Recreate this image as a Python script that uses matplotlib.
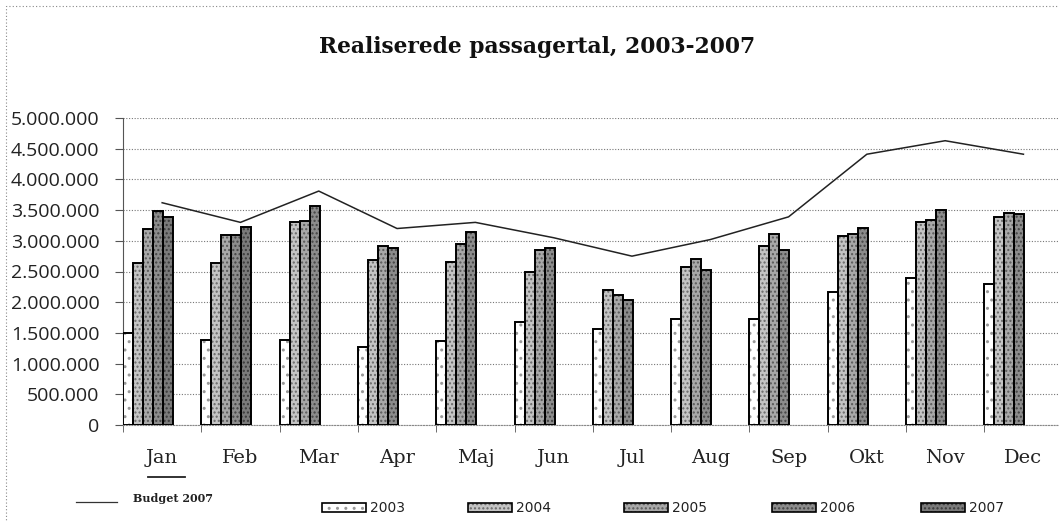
import matplotlib

matplotlib.use("Agg")
import matplotlib.pyplot as plt
from matplotlib.lines import Line2D
from matplotlib.patches import Rectangle
import numpy as np

months = ["Jan", "Feb", "Mar", "Apr", "Maj", "Jun",
          "Jul", "Aug", "Sep", "Okt", "Nov", "Dec"]
years = ["2003", "2004", "2005", "2006", "2007"]

# passengers per month, millions (2007 only known for Jan/Feb)
p2003 = [1.50, 1.38, 1.38, 1.27, 1.36, 1.67, 1.56, 1.73, 1.72, 2.17, 2.40, 2.30]
p2004 = [2.64, 2.64, 3.30, 2.69, 2.66, 2.50, 2.20, 2.58, 2.92, 3.08, 3.30, 3.38]
p2005 = [3.19, 3.10, 3.33, 2.92, 2.94, 2.85, 2.11, 2.70, 3.11, 3.11, 3.34, 3.46]
p2006 = [3.49, 3.10, 3.56, 2.88, 3.14, 2.89, 2.04, 2.52, 2.85, 3.21, 3.50, 3.44]
p2007 = [3.39, 3.23]
budget2007 = [3.62, 3.30, 3.81, 3.20, 3.30, 3.05, 2.75, 3.02, 3.39, 4.41, 4.63, 4.41]

series = [p2003, p2004, p2005, p2006, p2007]
faces = ["#ffffff", "#c4c4c4", "#a8a8a8", "#8c8c8c", "#7a7a7a"]
hatch_cols = ["#999999", "#6a6a6a", "#5a5a5a", "#444444", "#3a3a3a"]
hatches = ["..", "....", "....", "....", "...."]

W, H = 1059, 522
fig = plt.figure(figsize=(W / 100, H / 100), dpi=100)
ax = fig.add_axes([123 / W, (H - 425) / H, (W - 123) / W, 307 / H])

bw = 0.128
for j, vals in enumerate(series):
    x = np.arange(len(vals)) + j * bw
    v = np.array(vals) * 1e6
    ax.bar(x, v, width=bw, align="edge", color=faces[j], hatch=hatches[j],
           edgecolor=hatch_cols[j], linewidth=0, zorder=3)
    ax.bar(x, v, width=bw, align="edge", fill=False, edgecolor="black",
           linewidth=1.4, zorder=4)

xc = np.arange(len(months)) + 0.5
ax.plot(xc, np.array(budget2007) * 1e6, color="#222222", linewidth=1.1, zorder=5)

ax.set_xlim(0, (W - 123) / 78.3)
ax.set_ylim(0, 5e6)
yt = np.arange(0, 5.01e6, 5e5)
ax.set_yticks(yt)
ax.set_yticklabels(["0" if t == 0 else f"{int(t):,}".replace(",", ".") for t in yt],
                   fontsize=14, family="Open Sans", color="#222222")
ax.yaxis.grid(True, linestyle=(0, (1, 1.5)), color="#777777", linewidth=0.8, zorder=0)

ax.set_xticks(xc)
ax.set_xticklabels(months, fontsize=14, family="DejaVu Serif", color="#222222")
ax.set_xticks(np.arange(len(months)), minor=True)
ax.tick_params(axis="x", which="major", length=0, pad=17)
ax.tick_params(axis="x", which="minor", length=5, color="#555555")
ax.tick_params(axis="y", length=6, color="#555555", pad=11)

for s in ["top", "right"]:
    ax.spines[s].set_visible(False)
ax.spines["left"].set_color("#555555")
ax.spines["bottom"].set_color("#888888")
ax.spines["bottom"].set_linestyle((0, (1, 1.5)))

fig.text(537 / W, 1 - 47 / H, "Realiserede passagertal, 2003-2007",
         ha="center", va="center", fontsize=15.7, fontweight="bold",
         family="DejaVu Serif", color="#111111")

# underline mark under Jan
fig.add_artist(Line2D([148 / W, 185 / W], [1 - 477 / H, 1 - 477 / H],
                      color="#222222", linewidth=1.3))

# legend: budget line
fig.add_artist(Line2D([76 / W, 117 / W], [1 - 502 / H, 1 - 502 / H],
                      color="#333333", linewidth=0.9))
fig.text(133 / W, 1 - 499 / H, "Budget 2007", fontsize=8, fontweight="bold",
         family="DejaVu Serif", va="center", color="#222222")

# legend: years
leg_x = [322, 468, 624, 772, 921]
for j, yr in enumerate(years):
    x0 = leg_x[j] / W
    y0 = 1 - 512 / H
    fig.add_artist(Rectangle((x0, y0), 44 / W, 9 / H, facecolor=faces[j],
                             hatch=hatches[j], edgecolor=hatch_cols[j],
                             linewidth=0, transform=fig.transFigure))
    fig.add_artist(Rectangle((x0, y0), 44 / W, 9 / H, fill=False,
                             edgecolor="black", linewidth=1.2,
                             transform=fig.transFigure))
    fig.text((leg_x[j] + 48) / W, 1 - 508 / H, yr, fontsize=10,
             family="DejaVu Sans", va="center", color="#222222")

# dotted frame around chart
fig.add_artist(Rectangle((6 / W, -0.05), 1.1, 1 - 6 / H + 0.05, fill=False,
                         edgecolor="#888888", linewidth=0.8,
                         linestyle=(0, (1, 2)), transform=fig.transFigure))

fig.savefig("out.png", dpi=100)
